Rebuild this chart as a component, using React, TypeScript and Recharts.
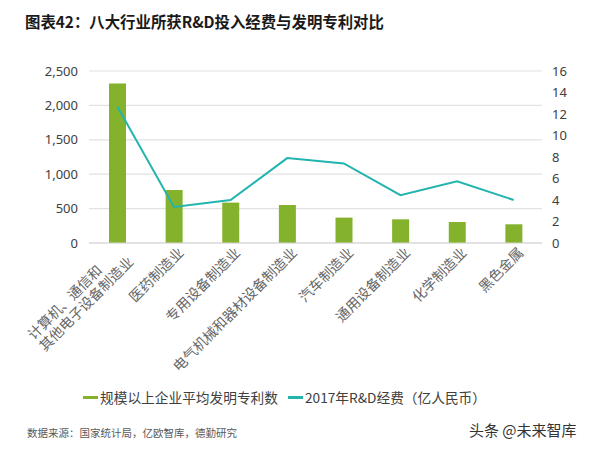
import React from "react";
import {
  ComposedChart,
  Bar,
  Line,
  XAxis,
  YAxis,
  CartesianGrid,
} from "recharts";

// industry names; "\n" splits a label over two lines
const industries = [
  "计算机、通信和\n其他电子设备制造业",
  "医药制造业",
  "专用设备制造业",
  "电气机械和器材设备制造业",
  "汽车制造业",
  "通用设备制造业",
  "化学制造业",
  "黑色金属",
];

// average invention patents per enterprise above designated size
const patents = [2320, 770, 587, 552, 369, 344, 305, 272];

// 2017 R&D funding (100 million RMB)
const rdFunds = [12.7, 3.35, 4.0, 7.9, 7.4, 4.45, 5.75, 4.0];

const leftTicks = [0, 500, 1000, 1500, 2000, 2500];
const rightTicks = [0, 2, 4, 6, 8, 10, 12, 14, 16];

const seriesNames = {
  patents: "规模以上企业平均发明专利数",
  rd: "2017年R&D经费（亿人民币）",
};

const GREEN = "#84b22c";
const TEAL = "#22b4ae";
const CJK = '"Noto Sans CJK SC", "Noto Sans", sans-serif';
const NUM = '"Noto Sans", "Noto Sans CJK SC", sans-serif';

const data = industries.map((name, i) => ({
  name,
  patents: patents[i],
  rd: rdFunds[i],
}));

function IndustryTick(props: any) {
  const { x, y, payload } = props;
  const lines: string[] = String(payload.value).split("\n");
  const style = { fontFamily: CJK, fontSize: 14, fill: "#666666" };
  return (
    <g transform={`translate(${x},${y}) rotate(-45)`}>
      {lines.length === 1 ? (
        <text x={0} y={9} textAnchor="end" dominantBaseline="central" style={style}>
          {lines[0]}
        </text>
      ) : (
        <>
          <text x={-128} y={4} textAnchor="start" dominantBaseline="central" style={style}>
            {lines[0]}
          </text>
          <text x={-2} y={20} textAnchor="end" dominantBaseline="central" style={style}>
            {lines[1]}
          </text>
        </>
      )}
    </g>
  );
}

function LegendRow() {
  const item = (color: string, label: string) => (
    <div style={{ display: "flex", alignItems: "center", marginRight: 10 }}>
      <span
        style={{
          display: "inline-block",
          width: 15,
          height: 3,
          background: color,
          marginRight: 2,
        }}
      />
      <span>{label}</span>
    </div>
  );
  return (
    <div
      style={{
        position: "absolute",
        left: 83,
        top: 387,
        display: "flex",
        fontFamily: CJK,
        fontSize: 13.7,
        color: "#404040",
        whiteSpace: "nowrap",
      }}
    >
      {item(GREEN, seriesNames.patents)}
      {item(TEAL, seriesNames.rd)}
    </div>
  );
}

export default function App() {
  return (
    <div
      style={{
        position: "absolute",
        left: 0,
        top: 0,
        width: 591,
        height: 451,
        background: "#ffffff",
        overflow: "hidden",
      }}
    >
      <div
        style={{
          position: "absolute",
          left: 25,
          top: 10,
          fontFamily: CJK,
          fontSize: 15.4,
          fontWeight: 700,
          color: "#1a1a1a",
          whiteSpace: "nowrap",
        }}
      >
        图表42：八大行业所获R&D投入经费与发明专利对比
      </div>

      <ComposedChart
        width={591}
        height={451}
        data={data}
        margin={{ top: 71, right: 0, bottom: 58, left: 29 }}
      >
        <CartesianGrid
          yAxisId="left"
          vertical={false}
          stroke="#e2e2e2"
          strokeWidth={1.2}
        />
        <XAxis
          dataKey="name"
          interval={0}
          height={150}
          tickSize={0}
          tickMargin={0}
          axisLine={{ stroke: "#d4d4d4", strokeWidth: 1.2 }}
          tickLine={false}
          tick={<IndustryTick />}
        />
        <YAxis
          yAxisId="left"
          width={60}
          domain={[0, 2500]}
          ticks={leftTicks}
          tickFormatter={(v: number) => v.toLocaleString("en-US")}
          axisLine={false}
          tickLine={false}
          tickSize={0}
          tickMargin={11}
          tick={{ fontFamily: NUM, fontSize: 13, fill: "#404040" }}
        />
        <YAxis
          yAxisId="right"
          orientation="right"
          width={49}
          domain={[0, 16]}
          ticks={rightTicks}
          axisLine={false}
          tickLine={false}
          tickSize={0}
          tickMargin={10}
          tick={{ fontFamily: NUM, fontSize: 13, fill: "#404040", textAnchor: "start" }}
        />
        <Bar
          yAxisId="left"
          dataKey="patents"
          name={seriesNames.patents}
          fill={GREEN}
          barSize={17}
          isAnimationActive={false}
        />
        <Line
          yAxisId="right"
          type="linear"
          dataKey="rd"
          name={seriesNames.rd}
          stroke={TEAL}
          strokeWidth={2}
          dot={false}
          activeDot={false}
          isAnimationActive={false}
        />
      </ComposedChart>

      <LegendRow />

      <div
        style={{
          position: "absolute",
          left: 27,
          top: 425,
          fontFamily: CJK,
          fontSize: 10.5,
          color: "#595959",
          whiteSpace: "nowrap",
        }}
      >
        数据来源：国家统计局，亿欧智库，德勤研究
      </div>
      <div
        style={{
          position: "absolute",
          left: 469,
          top: 419,
          fontFamily: CJK,
          fontSize: 15,
          color: "#333333",
          whiteSpace: "nowrap",
        }}
      >
        头条 @未来智库
      </div>
    </div>
  );
}
